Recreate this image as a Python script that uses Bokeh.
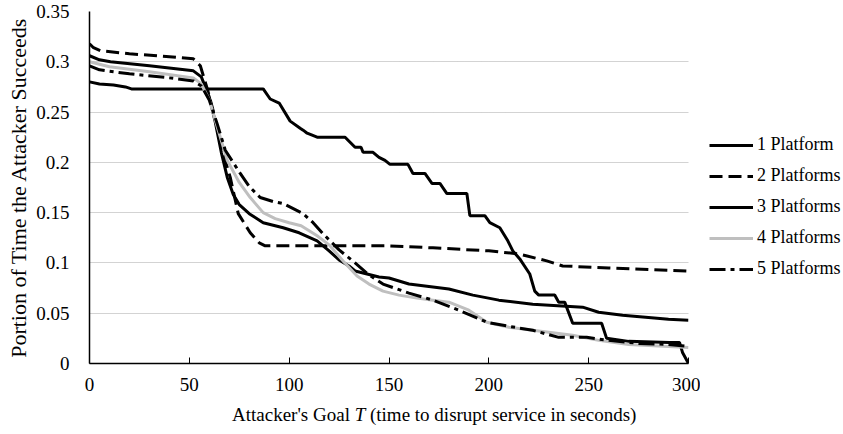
from bokeh.plotting import figure
from bokeh.models import Legend, LegendItem, NumeralTickFormatter, FixedTicker, Range1d, Div
from bokeh.layouts import column, row
from bokeh.embed import file_html
from bokeh.resources import INLINE

# ---- data ----
series_names = ["1 Platform", "2 Platforms", "3 Platforms", "4 Platforms", "5 Platforms"]

t1 = [0, 5, 12, 18, 21, 87, 90.5, 95, 100.5, 105.5, 107, 109, 114, 128, 133, 136, 137, 142, 145, 148,
      150.5, 159.5, 162, 168, 171.5, 175.5, 179, 189, 190.5, 198, 200.5, 205.5, 209.5, 212, 215.5,
      220.5, 223, 225, 233, 235, 238, 242, 256.5, 259, 270, 290.5, 295.5, 297, 300]
v1 = [0.280, 0.278, 0.277, 0.275, 0.273, 0.273, 0.263, 0.259, 0.241, 0.234, 0.232, 0.229, 0.225, 0.225,
      0.215, 0.215, 0.210, 0.210, 0.205, 0.202, 0.198, 0.198, 0.189, 0.189, 0.179, 0.179, 0.169, 0.169,
      0.147, 0.147, 0.140, 0.135, 0.122, 0.112, 0.104, 0.089, 0.072, 0.068, 0.068, 0.061, 0.061, 0.040,
      0.040, 0.025, 0.022, 0.021, 0.021, 0.011, 0.0]

t2 = [0, 2, 5.5, 20, 40, 52, 55.5, 59, 62, 66.5, 70.5, 74.5, 80.5, 85, 88, 150, 172, 200, 215, 229, 237, 260, 300]
v2 = [0.318, 0.314, 0.311, 0.308, 0.305, 0.303, 0.296, 0.273, 0.251, 0.212, 0.185, 0.149, 0.130, 0.120,
      0.117, 0.117, 0.115, 0.112, 0.109, 0.102, 0.097, 0.095, 0.092]

t3 = [0, 5, 10.5, 30, 52, 56, 60, 63, 66, 69, 72, 75, 80, 87, 97, 105, 114, 120, 125, 130, 133, 145, 150,
      160, 180, 192, 205, 222, 247, 255, 267, 290, 300]
v3 = [0.306, 0.302, 0.300, 0.296, 0.291, 0.285, 0.265, 0.240, 0.210, 0.185, 0.168, 0.158, 0.149, 0.140,
      0.135, 0.130, 0.122, 0.112, 0.103, 0.097, 0.092, 0.086, 0.085, 0.079, 0.074, 0.068, 0.063, 0.059,
      0.056, 0.051, 0.048, 0.044, 0.043]

t4 = [0, 10, 30, 52, 56, 60, 64, 69, 75, 80.5, 87, 93, 100, 106, 114, 120, 127, 134, 140, 147, 155, 164,
      172, 180, 190, 199, 210, 222, 242, 255, 270, 300]
v4 = [0.300, 0.295, 0.290, 0.284, 0.278, 0.262, 0.235, 0.202, 0.180, 0.165, 0.150, 0.144, 0.140, 0.137,
      0.127, 0.118, 0.102, 0.087, 0.079, 0.072, 0.068, 0.065, 0.063, 0.061, 0.053, 0.041, 0.036, 0.033,
      0.028, 0.023, 0.019, 0.016]

t5 = [0, 5, 20, 40, 52, 56, 60, 64, 68, 75.5, 80, 85.5, 92, 97, 107, 112, 117, 125, 133, 140, 147, 160,
      172, 185, 199, 210, 222, 235, 249, 260, 275, 290, 300]
v5 = [0.296, 0.292, 0.288, 0.284, 0.281, 0.276, 0.262, 0.238, 0.212, 0.189, 0.176, 0.165, 0.161, 0.159,
      0.149, 0.140, 0.129, 0.113, 0.100, 0.088, 0.079, 0.070, 0.063, 0.053, 0.041, 0.037, 0.033, 0.026,
      0.026, 0.023, 0.020, 0.019, 0.017]

y_ticks = [0, 0.05, 0.1, 0.15, 0.2, 0.25, 0.3, 0.35]
x_ticks = [0, 50, 100, 150, 200, 250, 300]

SERIF = "Liberation Serif"

p = figure(width=700, height=400, output_backend="svg", toolbar_location=None,
           x_range=Range1d(0, 300), y_range=Range1d(0, 0.35),
           min_border_left=89, min_border_right=12, min_border_top=11, min_border_bottom=37)
p.outline_line_color = None
p.background_fill_color = "white"
p.border_fill_color = "white"

# grid
p.xgrid.grid_line_color = None
p.ygrid.grid_line_color = "#a6a6a6"
p.ygrid.grid_line_dash = "1 1"
p.ygrid.grid_line_width = 1
p.ygrid.ticker = FixedTicker(ticks=y_ticks)

# axes
p.yaxis.ticker = FixedTicker(ticks=y_ticks)
p.yaxis.formatter = NumeralTickFormatter(format="0.[00]")
p.yaxis.major_tick_line_color = None
p.yaxis.minor_tick_line_color = None
p.yaxis.axis_line_color = "black"
p.yaxis.axis_line_width = 1.5
p.yaxis.major_label_text_font = SERIF
p.yaxis.major_label_text_font_size = "19px"
p.yaxis.major_label_text_color = "black"
p.yaxis.major_label_standoff = 14
p.yaxis.axis_label = "Portion of Time the Attacker Succeeds"
p.yaxis.axis_label_text_font = SERIF
p.yaxis.axis_label_text_font_size = "22px"
p.yaxis.axis_label_text_font_style = "normal"
p.yaxis.axis_label_text_color = "black"
p.yaxis.axis_label_standoff = 2

p.xaxis.ticker = FixedTicker(ticks=x_ticks)
p.xaxis.major_tick_in = 6
p.xaxis.major_tick_out = 0
p.xaxis.major_tick_line_color = "black"
p.xaxis.minor_tick_line_color = None
p.xaxis.axis_line_color = "black"
p.xaxis.axis_line_width = 1.5
p.xaxis.major_label_text_font = SERIF
p.xaxis.major_label_text_font_size = "19px"
p.xaxis.major_label_text_color = "black"
p.xaxis.major_label_standoff = 14

# lines
styles = [
    dict(color="black", dash="solid"),
    dict(color="black", dash="13 6"),
    dict(color="black", dash="solid"),
    dict(color="#bfbfbf", dash="solid"),
    dict(color="black", dash="16 5 4 5"),
]
data = [(t1, v1), (t2, v2), (t3, v3), (t4, v4), (t5, v5)]
for (tt, vv), st in zip(data, styles):
    p.line(tt, vv, line_color=st["color"], line_width=3, line_dash=st["dash"])

# legend panel on the right: a small figure whose view lies outside the data,
# so its copies of the series are not visible and only the legend shows
pl = figure(width=143, height=400, output_backend="svg", toolbar_location=None,
            x_range=Range1d(1000, 1001), y_range=Range1d(10, 11),
            min_border_left=0, min_border_right=0, min_border_top=0, min_border_bottom=0)
pl.axis.visible = False
pl.grid.visible = False
pl.outline_line_color = None
pl.background_fill_color = "white"
pl.border_fill_color = "white"
legend_renderers = []
for (tt, vv), st in zip(data, styles):
    r = pl.line(tt, vv, line_color=st["color"], line_width=3, line_dash=st["dash"])
    legend_renderers.append(r)

legend = Legend(items=[LegendItem(label=n, renderers=[r]) for n, r in zip(series_names, legend_renderers)],
                location=(9, 84), orientation="vertical")
legend.border_line_color = None
legend.background_fill_alpha = 0
legend.padding = 0
legend.margin = 0
legend.spacing = 10
legend.glyph_width = 44
legend.glyph_height = 20
legend.label_height = 20
legend.label_standoff = 4
legend.label_text_font = SERIF
legend.label_text_font_size = "18px"
legend.label_text_color = "black"
pl.add_layout(legend)

# x-axis title with italic T (HTML text below the plot)
xtitle = Div(
    text="Attacker's Goal <i>T</i> (time to disrupt service in seconds)",
    width=843, height=34, margin=0,
    styles={"font-family": "'Liberation Serif', 'Times New Roman', serif", "font-size": "19px",
            "color": "black", "padding-left": "232px", "padding-top": "4px", "line-height": "22px",
            "white-space": "nowrap", "box-sizing": "border-box"},
)

layout = column(row(p, pl, spacing=0), xtitle, spacing=0)
open("out.html", "w").write(file_html(layout, INLINE))
